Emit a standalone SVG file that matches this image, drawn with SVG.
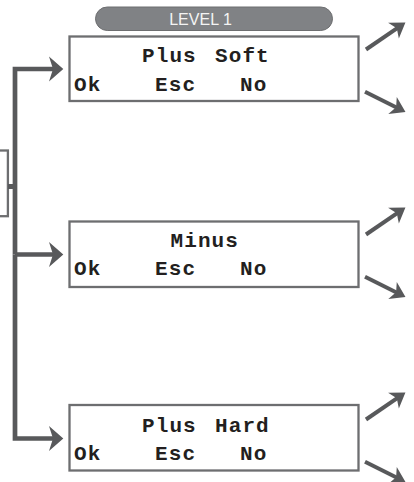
<svg xmlns="http://www.w3.org/2000/svg" width="414" height="482" viewBox="0 0 414 482">
  <style>
    .box { fill: #ffffff; stroke: #6d6e70; stroke-width: 2.3; }
    .lcd { font-family: "Liberation Mono", "Courier New", monospace; font-weight: bold; font-size: 21px; letter-spacing: 1.1px; fill: #231f20; }
    .conn { fill: none; stroke: #58595b; stroke-width: 4.7; stroke-linejoin: miter; }
    .diag { fill: none; stroke: #58595b; stroke-width: 4; }
    .pill { fill: #808285; stroke: #6d6e70; stroke-width: 1; }
    .pilltext { font-family: "Liberation Sans", Arial, sans-serif; font-size: 16px; fill: #f4f4f4; }
  </style>
  <defs>
    <marker id="ahBig" markerUnits="userSpaceOnUse" orient="auto" overflow="visible" markerWidth="30" markerHeight="30" refX="0" refY="0">
      <path d="M-5,-12.5 L9.3,0 L-5,12.5 L-1,0 Z" fill="#58595b"/>
    </marker>
    <marker id="ahSmall" markerUnits="userSpaceOnUse" orient="auto" overflow="visible" markerWidth="30" markerHeight="30" refX="0" refY="0">
      <path d="M-5,-9.5 L9.5,0 L-5,9.5 L-1,0 Z" fill="#58595b"/>
    </marker>
  </defs>

  <g id="level-label">
    <rect class="pill" x="95.5" y="7" width="237" height="23.5" rx="11.75"/>
    <text class="pilltext" x="200.5" y="25" text-anchor="middle">LEVEL 1</text>
  </g>

  <g id="previous-node">
    <rect class="box" x="-20" y="150.5" width="27.9" height="65.7"/>
  </g>

  <g id="connectors">
    <path class="conn" d="M15,254.5 V69 H54" marker-end="url(#ahBig)"/>
    <path class="conn" d="M15,254.5 V438.5 H54" marker-end="url(#ahBig)"/>
    <path class="conn" d="M15,254.5 H54" marker-end="url(#ahBig)"/>
    <path class="conn" d="M8,186.5 H15" style="stroke-width:5"/>
    <line class="diag" x1="366" y1="49.5" x2="397.6" y2="27.8" marker-end="url(#ahSmall)"/>
    <line class="diag" x1="365" y1="91.7" x2="397" y2="107.7" marker-end="url(#ahSmall)"/>
    <line class="diag" x1="366" y1="234.5" x2="397.6" y2="212.8" marker-end="url(#ahSmall)"/>
    <line class="diag" x1="365" y1="276.7" x2="397" y2="292.7" marker-end="url(#ahSmall)"/>
    <line class="diag" x1="366" y1="419.5" x2="397.6" y2="397.8" marker-end="url(#ahSmall)"/>
    <line class="diag" x1="365" y1="461.7" x2="397" y2="477.7" marker-end="url(#ahSmall)"/>
  </g>

  <g id="plus-soft">
    <rect class="box" x="69.5" y="36.5" width="289" height="64.5"/>
    <text class="lcd" x="142" y="61.5">Plus</text>
    <text class="lcd" x="215" y="61.5">Soft</text>
    <text class="lcd" x="74" y="91.3">Ok</text>
    <text class="lcd" x="155" y="91.3">Esc</text>
    <text class="lcd" x="240" y="91.3">No</text>
  </g>

  <g id="minus">
    <rect class="box" x="69.5" y="221.5" width="289" height="65.5"/>
    <text class="lcd" x="170.5" y="247.3">Minus</text>
    <text class="lcd" x="74" y="275.3">Ok</text>
    <text class="lcd" x="155" y="275.3">Esc</text>
    <text class="lcd" x="240" y="275.3">No</text>
  </g>

  <g id="plus-hard">
    <rect class="box" x="69.5" y="405" width="289" height="65.5"/>
    <text class="lcd" x="142" y="431.7">Plus</text>
    <text class="lcd" x="215" y="431.7">Hard</text>
    <text class="lcd" x="74" y="460">Ok</text>
    <text class="lcd" x="155" y="460">Esc</text>
    <text class="lcd" x="240" y="460">No</text>
  </g>
</svg>
